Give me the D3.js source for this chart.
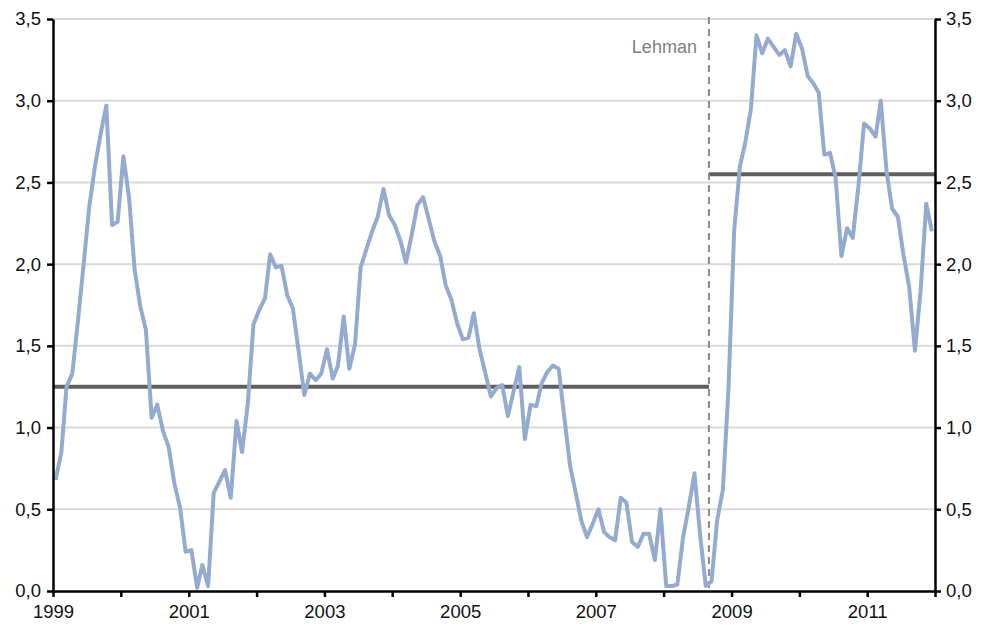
<!DOCTYPE html>
<html>
<head>
<meta charset="utf-8">
<script src="https://cdn.jsdelivr.net/npm/d3@7"></script>
<style>
  body { margin: 0; background: #fff; }
  svg text { font-family: "Liberation Sans", Arial, sans-serif; }
</style>
</head>
<body>
<div id="chart"></div>
<script>
// monthly values, Jan 1999 -> Dec 2011
const values = [
  0.68, 0.85, 1.25, 1.33, 1.65, 2.00, 2.35, 2.60, 2.80, 2.97, 2.24, 2.26,
  2.66, 2.40, 1.97, 1.74, 1.60, 1.06, 1.14, 0.98, 0.88, 0.66, 0.51, 0.24,
  0.25, 0.02, 0.16, 0.03, 0.60, 0.67, 0.74, 0.57, 1.04, 0.85, 1.15, 1.63,
  1.72, 1.79, 2.06, 1.98, 1.99, 1.81, 1.73, 1.47, 1.20, 1.33, 1.29, 1.33,
  1.48, 1.30, 1.38, 1.68, 1.36, 1.51, 1.98, 2.09, 2.20, 2.29, 2.46, 2.30,
  2.24, 2.14, 2.01, 2.18, 2.36, 2.41, 2.28, 2.14, 2.05, 1.87, 1.78, 1.64,
  1.54, 1.55, 1.70, 1.48, 1.34, 1.19, 1.24, 1.26, 1.07, 1.22, 1.37, 0.93,
  1.14, 1.13, 1.27, 1.34, 1.38, 1.36, 1.07, 0.77, 0.60, 0.43, 0.33, 0.41,
  0.50, 0.36, 0.33, 0.31, 0.57, 0.54, 0.30, 0.27, 0.35, 0.35, 0.19, 0.50,
  0.03, 0.03, 0.04, 0.33, 0.51, 0.72, 0.35, 0.03, 0.06, 0.43, 0.62, 1.23,
  2.21, 2.60, 2.74, 2.95, 3.40, 3.29, 3.38, 3.33, 3.28, 3.31, 3.21, 3.41,
  3.32, 3.15, 3.11, 3.05, 2.67, 2.68, 2.53, 2.05, 2.22, 2.16, 2.48, 2.86,
  2.83, 2.78, 3.00, 2.57, 2.34, 2.29, 2.06, 1.86, 1.47, 1.83, 2.37, 2.20
];
const startYear = 1999;
const endYear = 2012;
const yTicks = [0, 0.5, 1, 1.5, 2, 2.5, 3, 3.5];
const yearLabels = [1999, 2001, 2003, 2005, 2007, 2009, 2011];
// averages before / after Lehman
const averages = [
  { from: [1999, 0], to: [2008, 8], value: 1.25 },
  { from: [2008, 8], to: [2012, 0], value: 2.55 }
];
const lehmanDate = [2008, 8];

const W = 983, H = 629;
const margin = { top: 19, right: 48, bottom: 38, left: 53 };
const width = W - margin.left - margin.right;
const height = H - margin.top - margin.bottom;

const svg = d3.select("#chart").append("svg")
    .attr("width", W)
    .attr("height", H);

const g = svg.append("g")
    .attr("transform", `translate(${margin.left},${margin.top})`);

const x = d3.scaleTime()
    .domain([new Date(startYear, 0, 1), new Date(endYear, 0, 1)])
    .range([0, width]);

const y = d3.scaleLinear()
    .domain([0, 3.5])
    .range([height, 0]);

const fmt = d => d.toFixed(1).replace(".", ",");

// grid lines
g.selectAll(".grid")
    .data(yTicks.filter(d => d > 0))
    .enter()
    .append("line")
    .attr("x1", 0)
    .attr("x2", width)
    .attr("y1", d => y(d))
    .attr("y2", d => y(d))
    .attr("stroke", "#d9d9d9")
    .attr("stroke-width", 2);

// average lines
g.selectAll(".avg")
    .data(averages)
    .enter()
    .append("line")
    .attr("x1", d => x(new Date(d.from[0], d.from[1], 1)))
    .attr("x2", d => x(new Date(d.to[0], d.to[1], 1)))
    .attr("y1", d => y(d.value))
    .attr("y2", d => y(d.value))
    .attr("stroke", "#5f5f5f")
    .attr("stroke-width", 4);

// Lehman marker
const lx = x(new Date(lehmanDate[0], lehmanDate[1], 1));
g.append("line")
    .attr("x1", lx)
    .attr("x2", lx)
    .attr("y1", -2)
    .attr("y2", height)
    .attr("stroke", "#8a8a8a")
    .attr("stroke-width", 2)
    .attr("stroke-dasharray", "7,5");

g.append("text")
    .attr("x", lx - 12)
    .attr("y", 34)
    .attr("text-anchor", "end")
    .attr("fill", "#808080")
    .attr("font-size", 18)
    .text("Lehman");

// series
const line = d3.line()
    .x((d, i) => x(new Date(startYear, i, 15)))
    .y(d => y(d));

g.append("path")
    .datum(values)
    .attr("fill", "none")
    .attr("stroke", "#94abcf")
    .attr("stroke-width", 4)
    .attr("stroke-linejoin", "round")
    .attr("d", line);

// axes
const yLeft = g.append("g")
    .call(d3.axisLeft(y).tickValues(yTicks).tickFormat(fmt).tickSize(6).tickSizeOuter(0));
const yRight = g.append("g")
    .attr("transform", `translate(${width},0)`)
    .call(d3.axisRight(y).tickValues(yTicks).tickFormat(fmt).tickSize(6).tickSizeOuter(0));

const yearTicks = d3.range(startYear, endYear + 1).map(yr => new Date(yr, 0, 1));
const xAxis = g.append("g")
    .attr("transform", `translate(0,${height})`)
    .call(d3.axisBottom(x).tickValues(yearTicks).tickSize(6).tickSizeOuter(0)
        .tickFormat(d => yearLabels.includes(d.getFullYear()) ? d.getFullYear() : ""));

[yLeft, yRight, xAxis].forEach(ax => {
    ax.select(".domain").attr("stroke", "#000").attr("stroke-width", 2.5);
    ax.selectAll(".tick line").attr("stroke", "#000").attr("stroke-width", 2.5);
    ax.selectAll(".tick text")
        .attr("font-size", 18.5)
        .attr("fill", "#111")
        .attr("font-family", "Liberation Sans, Arial, sans-serif");
});
yLeft.selectAll(".tick text").attr("x", -12);
yRight.selectAll(".tick text").attr("x", 11);
xAxis.selectAll(".tick text").attr("y", 14);
</script>
</body>
</html>
